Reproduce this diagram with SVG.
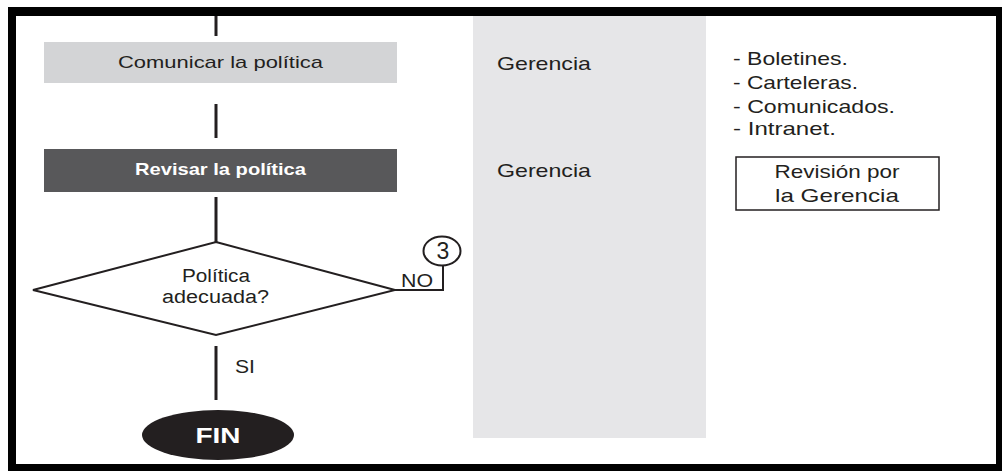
<svg xmlns="http://www.w3.org/2000/svg" width="1002" height="471" viewBox="0 0 1002 471">
<style>
.t{font-family:"Liberation Sans",Arial,sans-serif;fill:#231f20}
.b{font-family:"Liberation Sans",Arial,sans-serif;font-weight:bold;fill:#fff}
.ln{stroke:#231f20;stroke-width:3;fill:none}
.thin{stroke:#231f20;stroke-width:2;fill:none}
</style>
<rect x="0" y="0" width="1002" height="471" fill="#fdfdfd"/>
<rect x="8" y="7" width="994" height="464" fill="#000"/>
<rect x="16" y="16" width="980" height="448" fill="#fff"/>
<rect id="lane" x="473" y="16" width="233" height="422" fill="#e6e6e8"/>
<g id="connectors">
<line class="ln" x1="216" y1="16" x2="216" y2="36"/>
<line class="ln" x1="216" y1="104" x2="216" y2="138"/>
<line class="ln" x1="216" y1="197" x2="216" y2="242"/>
<line class="ln" x1="216" y1="346" x2="216" y2="400"/>
<polyline class="thin" points="395,290 443,290 443,264"/>
<text class="t" x="401" y="287" font-size="19" textLength="32" lengthAdjust="spacingAndGlyphs">NO</text>
<text class="t" x="235" y="373" font-size="19" textLength="20" lengthAdjust="spacingAndGlyphs">SI</text>
</g>
<g id="comunicar">
<rect x="44" y="42" width="353" height="41" fill="#d3d4d6"/>
<text class="t" x="118" y="68" font-size="17" textLength="205" lengthAdjust="spacingAndGlyphs">Comunicar la política</text>
</g>
<g id="revisar">
<rect x="44" y="149" width="353" height="43" fill="#58585a"/>
<text class="b" x="135" y="175" font-size="17" textLength="171" lengthAdjust="spacingAndGlyphs">Revisar la política</text>
</g>
<g id="decision">
<polygon points="216,242 395,290 216,335 33,290" fill="#fff" stroke="#231f20" stroke-width="2"/>
<text class="t" x="182" y="282" font-size="18" textLength="68" lengthAdjust="spacingAndGlyphs">Política</text>
<text class="t" x="162" y="303" font-size="18" textLength="107" lengthAdjust="spacingAndGlyphs">adecuada?</text>
</g>
<g id="conector3">
<ellipse cx="442" cy="251" rx="18.5" ry="14.5" fill="#fff" stroke="#231f20" stroke-width="2"/>
<text class="t" x="443" y="259" font-size="23" text-anchor="middle">3</text>
</g>
<g id="fin">
<ellipse cx="218" cy="435" rx="76" ry="25" fill="#231f20"/>
<text class="b" x="218" y="443" font-size="22" text-anchor="middle" textLength="45" lengthAdjust="spacingAndGlyphs">FIN</text>
</g>
<g id="resp1"><text class="t" x="497" y="70" font-size="19" textLength="94" lengthAdjust="spacingAndGlyphs">Gerencia</text></g>
<g id="resp2"><text class="t" x="497" y="177" font-size="19" textLength="94" lengthAdjust="spacingAndGlyphs">Gerencia</text></g>
<g id="medios">
<text class="t" x="733" y="65" font-size="19" textLength="115" lengthAdjust="spacingAndGlyphs">- Boletines.</text>
<text class="t" x="733" y="89" font-size="19" textLength="125" lengthAdjust="spacingAndGlyphs">- Carteleras.</text>
<text class="t" x="733" y="113" font-size="19" textLength="162" lengthAdjust="spacingAndGlyphs">- Comunicados.</text>
<text class="t" x="733" y="135" font-size="19" textLength="103" lengthAdjust="spacingAndGlyphs">- Intranet.</text>
</g>
<g id="revision">
<rect x="736" y="157" width="203" height="53" fill="#fff" stroke="#231f20" stroke-width="1.5"/>
<text class="t" x="837" y="178" font-size="19" text-anchor="middle" textLength="125" lengthAdjust="spacingAndGlyphs">Revisión por</text>
<text class="t" x="837" y="202" font-size="19" text-anchor="middle" textLength="124" lengthAdjust="spacingAndGlyphs">la Gerencia</text>
</g>
</svg>
